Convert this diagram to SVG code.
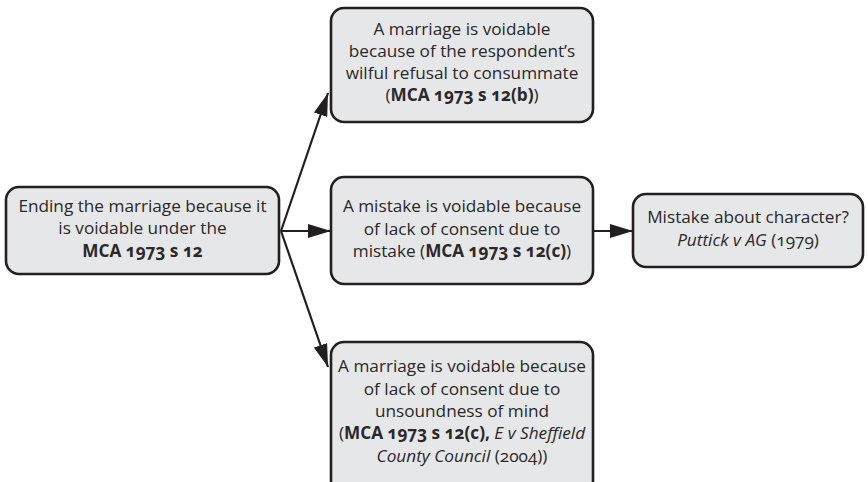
<svg xmlns="http://www.w3.org/2000/svg" width="868" height="482" viewBox="0 0 868 482">
  <defs>
    <style>
      .box { fill: #e6e7e8; stroke: #231f20; stroke-width: 2.6; }
      .t { font-family: "Open Sans", "Noto Sans", sans-serif; font-size: 17.2px; fill: #2b2829; text-anchor: middle; font-variant-numeric: oldstyle-nums; font-feature-settings: "onum"; }
      .b { font-weight: bold; }
      .i { font-style: italic; }
      .edge { stroke: #231f20; stroke-width: 2.2; fill: none; marker-end: url(#arrow); }
    </style>
    <marker id="arrow" markerWidth="23" markerHeight="14" refX="23" refY="7" orient="auto" markerUnits="userSpaceOnUse">
      <path d="M0,0 L23,7 L0,14 Z" fill="#231f20"/>
    </marker>
  </defs>

  <g id="connectors">
    <line class="edge" x1="281" y1="231" x2="328" y2="93"/>
    <line class="edge" x1="281" y1="231" x2="331" y2="231"/>
    <line class="edge" x1="281" y1="231" x2="328" y2="367"/>
    <line class="edge" x1="594" y1="231" x2="633" y2="231"/>
  </g>

  <g id="start">
    <rect class="box" x="6" y="187" width="273" height="87" rx="13"/>
    <text class="t" x="142.5" y="212">Ending the marriage because it</text>
    <text class="t" x="142.5" y="234">is voidable under the</text>
    <text class="t b" x="142.5" y="257">MCA 1973 s 12</text>
  </g>

  <g id="refusal">
    <rect class="box" x="331" y="8" width="262" height="114" rx="13"/>
    <text class="t" x="462" y="35">A marriage is voidable</text>
    <text class="t" x="462" y="57">because of the respondent’s</text>
    <text class="t" x="462" y="79">wilful refusal to consummate</text>
    <text class="t" x="462" y="101">(<tspan class="b">MCA 1973 s 12(b)</tspan>)</text>
  </g>

  <g id="mistake">
    <rect class="box" x="331" y="177" width="262" height="107" rx="13"/>
    <text class="t" x="462" y="212">A mistake is voidable because</text>
    <text class="t" x="462" y="235">of lack of consent due to</text>
    <text class="t" x="462" y="257">mistake (<tspan class="b">MCA 1973 s 12(c)</tspan>)</text>
  </g>

  <g id="character">
    <rect class="box" x="633" y="194" width="230" height="73" rx="13"/>
    <text class="t" x="748" y="223">Mistake about character?</text>
    <text class="t" x="748" y="246"><tspan class="i">Puttick v AG</tspan> (1979)</text>
  </g>

  <g id="unsoundness">
    <rect class="box" x="331" y="342" width="262" height="152" rx="13"/>
    <text class="t" x="462" y="372">A marriage is voidable because</text>
    <text class="t" x="462" y="395">of lack of consent due to</text>
    <text class="t" x="462" y="417">unsoundness of mind</text>
    <text class="t" x="462" y="439">(<tspan class="b">MCA 1973 s 12(c),</tspan> <tspan class="i">E v Sheffield</tspan></text>
    <text class="t" x="462" y="462"><tspan class="i">County Council</tspan> (2004))</text>
  </g>
</svg>
